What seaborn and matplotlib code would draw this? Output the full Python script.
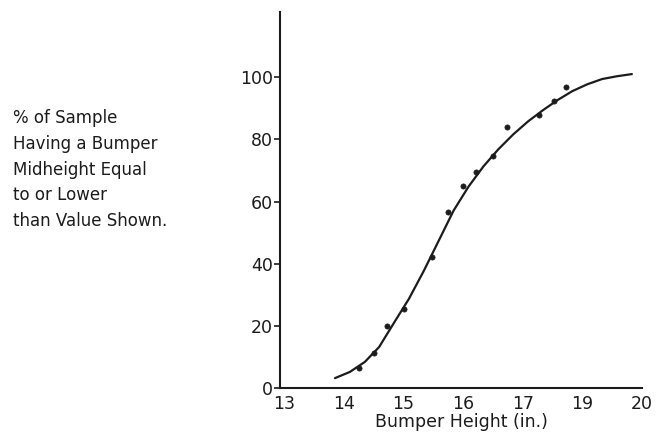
import matplotlib
matplotlib.use("Agg")
import matplotlib.pyplot as plt
import seaborn as sns
import pandas as pd

# измеренные точки
point_height = [14.26, 14.51, 14.73, 15.01, 15.48, 15.74, 15.99, 16.22, 16.50, 16.74, 17.27, 17.53, 17.73]
point_pct = [6.5, 11.3, 20.0, 25.5, 42.3, 56.5, 65.0, 69.4, 74.5, 84.0, 87.7, 92.3, 96.8]

# сглаженная кривая
curve_height = [13.85, 14.10, 14.35, 14.59, 14.84, 15.09, 15.34, 15.59, 15.84, 16.09, 16.34,
                16.59, 16.84, 17.09, 17.34, 17.58, 17.83, 18.08, 18.33, 18.58, 18.83]
curve_pct = [3.2, 5.2, 8.4, 13.2, 21.0, 28.7, 37.7, 47.4, 57.1, 64.8, 71.3,
             76.8, 81.6, 85.8, 89.4, 92.6, 95.5, 97.7, 99.4, 100.3, 101.0]

x_ticks = [13, 14, 15, 16, 17, 18, 19]
x_tick_labels = ["13", "14", "15", "16", "17", "19", "20"]
y_ticks = [0, 20, 40, 60, 80, 100]

points = pd.DataFrame({"height": point_height, "pct": point_pct})
curve = pd.DataFrame({"height": curve_height, "pct": curve_pct})

sns.set_theme(style="ticks")
plt.rcParams["font.family"] = ["DejaVu Sans"]

fig = plt.figure(figsize=(6.67, 4.41), dpi=100)
ax = fig.add_axes([0.42, 0.12, 0.5425, 0.853])

ink = "#1c1c1c"
sns.lineplot(data=curve, x="height", y="pct", ax=ax, color=ink, linewidth=1.6)
sns.scatterplot(data=points, x="height", y="pct", ax=ax, color=ink, s=14, edgecolor=ink, linewidth=0.5)

ax.set_xlim(12.93, 18.95)
ax.set_ylim(0, 121)
ax.set_xticks(x_ticks)
ax.set_xticklabels(x_tick_labels)
ax.set_yticks(y_ticks)

sns.despine(ax=ax)
for side in ["left", "bottom"]:
    ax.spines[side].set_color(ink)
    ax.spines[side].set_linewidth(1.5)

ax.tick_params(axis="x", length=0, pad=5, labelsize=12.5, colors=ink)
ax.tick_params(axis="y", length=4, width=1.2, pad=1, labelsize=12.5, colors=ink)

ax.set_xlabel("Bumper Height (in.)", fontsize=12.5, color=ink, labelpad=0)
ax.set_ylabel("")

fig.text(0.02, 0.752,
         "% of Sample\nHaving a Bumper\nMidheight Equal\nto or Lower\nthan Value Shown.",
         ha="left", va="top", fontsize=12, color=ink, linespacing=1.55)

fig.savefig("out.png", dpi=100, facecolor="white")
